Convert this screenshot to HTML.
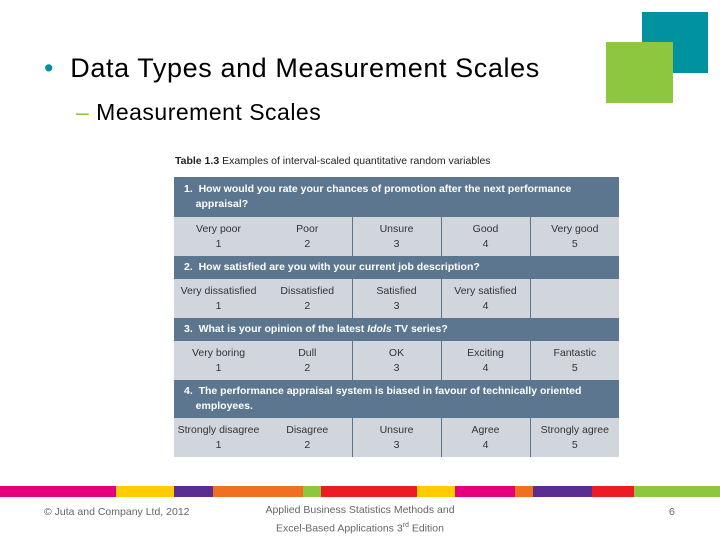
<!DOCTYPE html>
<html><head><meta charset="utf-8"><style>
body{margin:0;width:720px;height:540px;background:#fff;position:relative;overflow:hidden;font-family:"Liberation Sans",sans-serif}
.a{position:absolute}
table{position:absolute;left:174px;top:177px;width:445px;border-collapse:collapse;table-layout:fixed;font-size:10.5px;color:#333}
td{padding:0;text-align:center;line-height:15px;height:39px;background:#d1d5dc;overflow:hidden;white-space:nowrap}
td.h{background:#5d7690;color:#fff;font-weight:bold;text-align:left;padding-left:10px;height:23px;font-size:10.5px}
td.v{border-left:1px solid #5d7690}
</style></head><body>
<div class="a" style="left:642px;top:12px;width:66px;height:61px;background:#00929f"></div>
<div class="a" style="left:606px;top:42px;width:67px;height:61px;background:#8dc63f"></div>
<div class="a" style="left:44px;top:53px;font-size:27px;letter-spacing:0.6px;color:#000"><span style="color:#00929f">•</span>&nbsp; Data Types and Measurement Scales</div>
<div class="a" style="left:76px;top:99px;font-size:23px;letter-spacing:0.5px;color:#000"><span style="color:#8dc63f">–</span> Measurement Scales</div>
<div class="a" style="left:175px;top:155px;font-size:10.5px;color:#222"><b>Table 1.3</b> Examples of interval-scaled quantitative random variables</div>
<table>
<colgroup><col style="width:89px"><col style="width:89px"><col style="width:89px"><col style="width:89px"><col style="width:89px"></colgroup>
<tr><td class="h" colspan="5" style="height:40px;line-height:15px">1.&nbsp; How would you rate your chances of promotion after the next performance<br>&nbsp;&nbsp;&nbsp;&nbsp;appraisal?</td></tr>
<tr><td>Very poor<br>1</td><td>Poor<br>2</td><td class="v">Unsure<br>3</td><td class="v">Good<br>4</td><td class="v">Very good<br>5</td></tr>
<tr><td class="h" colspan="5">2.&nbsp; How satisfied are you with your current job description?</td></tr>
<tr><td>Very dissatisfied<br>1</td><td>Dissatisfied<br>2</td><td class="v">Satisfied<br>3</td><td class="v">Very satisfied<br>4</td><td class="v"></td></tr>
<tr><td class="h" colspan="5">3.&nbsp; What is your opinion of the latest <i>Idols</i> TV series?</td></tr>
<tr><td>Very boring<br>1</td><td>Dull<br>2</td><td class="v">OK<br>3</td><td class="v">Exciting<br>4</td><td class="v">Fantastic<br>5</td></tr>
<tr><td class="h" colspan="5" style="height:38px;line-height:15px">4.&nbsp; The performance appraisal system is biased in favour of technically oriented<br>&nbsp;&nbsp;&nbsp;&nbsp;employees.</td></tr>
<tr><td>Strongly disagree<br>1</td><td>Disagree<br>2</td><td class="v">Unsure<br>3</td><td class="v">Agree<br>4</td><td class="v">Strongly agree<br>5</td></tr>
</table>
<div class="a" style="left:0;top:486px;width:720px;height:11px;display:flex">
<div style="width:116px;background:#e6007e"></div><div style="width:58px;background:#ffcc00"></div><div style="width:39px;background:#5c2d91"></div><div style="width:90px;background:#f07022"></div><div style="width:18px;background:#8dc63f"></div><div style="width:96px;background:#ed1c24"></div><div style="width:38px;background:#ffcc00"></div><div style="width:60px;background:#e6007e"></div><div style="width:18px;background:#f07022"></div><div style="width:59px;background:#5c2d91"></div><div style="width:42px;background:#ed1c24"></div><div style="width:86px;background:#8dc63f"></div>
</div>
<div class="a" style="left:44px;top:506px;font-size:10.5px;color:#666">© Juta and Company Ltd, 2012</div>
<div class="a" style="left:250px;top:503px;width:220px;text-align:center;font-size:10.5px;line-height:15px;color:#666">Applied Business Statistics Methods and<br>Excel-Based Applications 3<sup style="font-size:7px">rd</sup> Edition</div>
<div class="a" style="left:669px;top:506px;font-size:10.5px;color:#666">6</div>
</body></html>
